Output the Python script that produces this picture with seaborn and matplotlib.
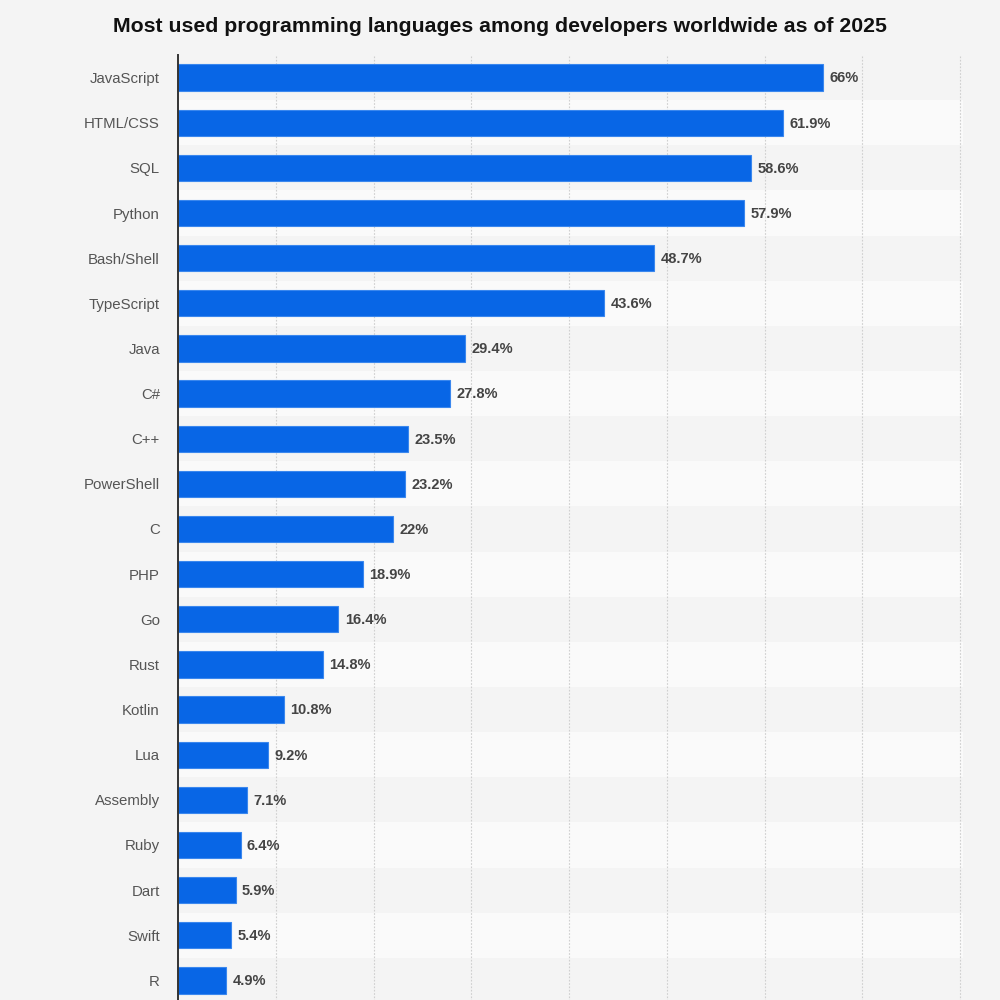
import matplotlib
matplotlib.use("Agg")
import matplotlib.pyplot as plt
import seaborn as sns
import pandas as pd

languages = ["JavaScript", "HTML/CSS", "SQL", "Python", "Bash/Shell", "TypeScript",
             "Java", "C#", "C++", "PowerShell", "C", "PHP", "Go", "Rust", "Kotlin",
             "Lua", "Assembly", "Ruby", "Dart", "Swift", "R"]
shares = [66, 61.9, 58.6, 57.9, 48.7, 43.6, 29.4, 27.8, 23.5, 23.2, 22, 18.9,
          16.4, 14.8, 10.8, 9.2, 7.1, 6.4, 5.9, 5.4, 4.9]

df = pd.DataFrame({"language": languages, "share": shares})

sns.set_theme(style="white")
plt.rcParams['font.family'] = ['Liberation Sans', 'DejaVu Sans']

bg = "#f4f4f4"
fig = plt.figure(figsize=(10, 10), dpi=100, facecolor=bg)
ax = fig.add_axes([0.178, -0.003, 0.785, 0.948])
ax.set_facecolor(bg)

# alternating row bands
for i in range(len(languages)):
    if i % 2 == 1:
        ax.axhspan(i - 0.5, i + 0.5, color="#fafafa", zorder=0, lw=0)

sns.barplot(data=df, x="share", y="language", color="#0866e6", width=0.58,
            edgecolor="#3a87ee", linewidth=0.8, saturation=1, ax=ax, zorder=3)

for i, v in enumerate(shares):
    ax.text(v + 0.65, i + 0.02, f"{v:g}%", va="center", ha="left", fontsize=10.5,
            fontweight="bold", color="#444444", zorder=4)

ax.set_xlim(0, 80.3)
ax.set_ylim(len(languages) - 0.5, -0.5)
ax.set_xticks(range(10, 81, 10))
ax.xaxis.grid(True, linestyle=(0, (1.5, 1.5)), color="#cfcfcf", linewidth=0.8)
ax.set_axisbelow(True)
for g in ax.get_xgridlines():
    g.set_zorder(1)
ax.tick_params(axis="x", length=0, labelbottom=False)
ax.tick_params(axis="y", length=0, pad=13, labelsize=10.8, labelcolor="#555555")
ax.set_xlabel("")
ax.set_ylabel("")
for s in ["top", "right", "bottom"]:
    ax.spines[s].set_visible(False)
ax.spines["left"].set_color("#333333")
ax.spines["left"].set_linewidth(1.4)
ax.spines["left"].set_zorder(5)

fig.text(0.5, 0.973, "Most used programming languages among developers worldwide as of 2025",
         ha="center", va="center", fontsize=15.3, fontweight="bold", color="#111111")

fig.savefig("out.png", dpi=100, facecolor=bg)
